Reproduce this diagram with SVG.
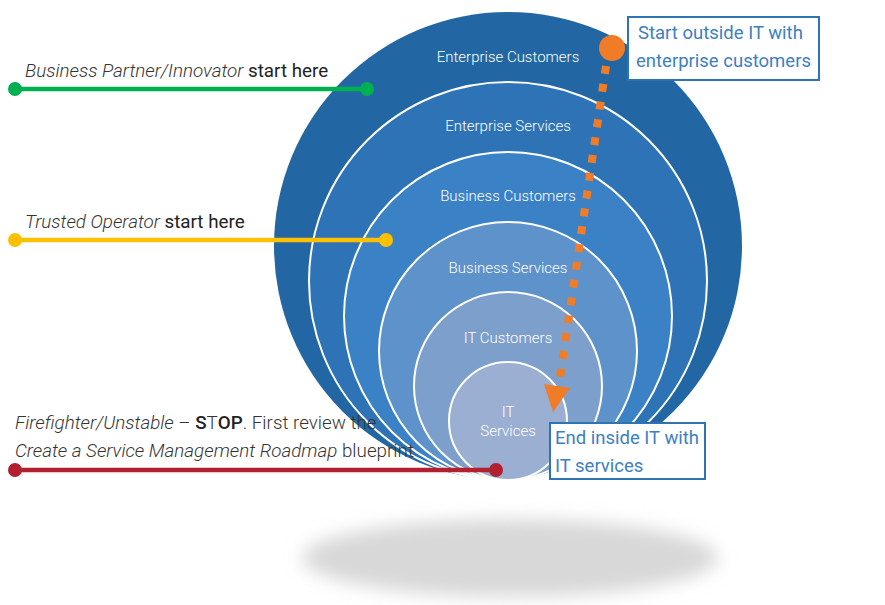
<svg xmlns="http://www.w3.org/2000/svg" width="885" height="605" viewBox="0 0 885 605">
<style>
.ring{stroke:#ffffff;stroke-width:2}
.rl{font-family:Roboto,"Liberation Sans",sans-serif;font-size:15px;font-weight:300;fill:#ffffff;text-anchor:middle}
.lab{font-family:Roboto,"Liberation Sans",sans-serif;font-size:18.8px;fill:#333333}
.it{font-style:italic;font-weight:300}
.st{font-weight:400;fill:#222222}
.call{font-family:Roboto,"Liberation Sans",sans-serif;font-size:18.5px;fill:#3D80C1}
.box{fill:#ffffff;stroke:#2E74B5;stroke-width:2}
</style>
<defs>
<filter id="blur" x="-20%" y="-60%" width="140%" height="220%"><feGaussianBlur stdDeviation="9"/></filter>
</defs>
<rect width="885" height="605" fill="#ffffff"/>
<ellipse cx="510" cy="558" rx="208" ry="39" fill="#d8d8d8" filter="url(#blur)"/>
<g id="circles">
<g id="enterprise-customers"><circle cx="508" cy="246" r="234" fill="#2267A3"/><text class="rl" x="508" y="62">Enterprise Customers</text></g>
<g id="enterprise-services"><circle class="ring" cx="508" cy="281" r="199" fill="#2D73B6"/><text class="rl" x="508" y="131">Enterprise Services</text></g>
<g id="business-customers"><circle class="ring" cx="508" cy="316" r="164" fill="#3B81C6"/><text class="rl" x="508" y="201">Business Customers</text></g>
<g id="business-services"><circle class="ring" cx="508" cy="351" r="129" fill="#5E92CA"/><text class="rl" x="508" y="273">Business Services</text></g>
<g id="it-customers"><circle class="ring" cx="508" cy="386" r="94" fill="#7D9FCB"/><text class="rl" x="508" y="343">IT Customers</text></g>
<g id="it-services"><circle class="ring" cx="508" cy="421" r="59" fill="#9AAFD1"/><text class="rl" x="508" y="417">IT</text><text class="rl" x="508" y="436">Services</text></g>
</g>
<g id="label-partner">
<text class="lab" x="25" y="77"><tspan class="it">Business Partner/Innovator </tspan><tspan class="st">start here</tspan></text>
</g>
<g id="label-operator">
<text class="lab" x="25" y="228"><tspan class="it">Trusted Operator </tspan><tspan class="st">start here</tspan></text>
</g>
<g id="label-firefighter">
<text class="lab" x="15" y="429"><tspan class="it">Firefighter/Unstable</tspan><tspan font-weight="300"> – </tspan><tspan font-weight="500" fill="#222">S</tspan><tspan font-weight="300">T</tspan><tspan font-weight="500" fill="#222">OP</tspan><tspan font-weight="300">. First review the</tspan></text>
<text class="lab" x="15" y="457"><tspan class="it">Create a Service Management Roadmap</tspan><tspan font-weight="300"> blueprint</tspan></text>
</g>
<g id="connectors">
<g id="green-line"><line x1="15" y1="89" x2="367" y2="89" stroke="#00B050" stroke-width="4.5"/><circle cx="15" cy="89" r="7" fill="#00B050"/><circle cx="367" cy="89" r="7" fill="#00B050"/></g>
<g id="yellow-line"><line x1="15" y1="240" x2="386" y2="240" stroke="#FFC000" stroke-width="4.5"/><circle cx="15" cy="240" r="7" fill="#FFC000"/><circle cx="386" cy="240" r="7" fill="#FFC000"/></g>
<g id="red-line"><line x1="15" y1="470" x2="496" y2="470" stroke="#B2202F" stroke-width="4.5"/><circle cx="15" cy="470" r="7" fill="#B2202F"/><circle cx="496" cy="470" r="7" fill="#B2202F"/></g>
<g id="orange-path">
<circle cx="612" cy="48" r="13" fill="#F07C28"/>
<line x1="606" y1="66" x2="559" y2="384" stroke="#F07C28" stroke-width="8" stroke-dasharray="8 10"/>
<polygon points="544,384 570,388 553,412" fill="#F07C28"/>
</g>
</g>
<g id="callout-start">
<rect class="box" x="628" y="17" width="191" height="63"/>
<text class="call" x="638" y="39">Start outside IT with</text>
<text class="call" x="636" y="67">enterprise customers</text>
</g>
<g id="callout-end">
<rect class="box" x="550" y="423" width="155" height="56"/>
<text class="call" x="555" y="444">End inside IT with</text>
<text class="call" x="555" y="472">IT services</text>
</g>
</svg>
